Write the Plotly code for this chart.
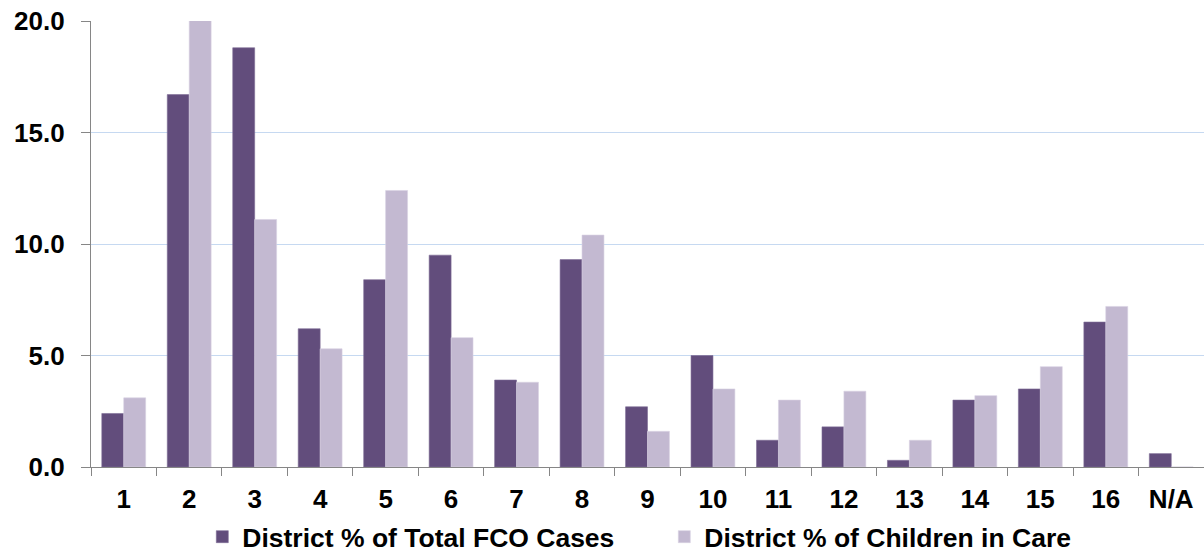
import plotly.graph_objects as go

categories = ["1", "2", "3", "4", "5", "6", "7", "8", "9", "10", "11", "12", "13", "14", "15", "16", "N/A"]
fco_cases = [2.4, 16.7, 18.8, 6.2, 8.4, 9.5, 3.9, 9.3, 2.7, 5.0, 1.2, 1.8, 0.3, 3.0, 3.5, 6.5, 0.6]
children_in_care = [3.1, 20.1, 11.1, 5.3, 12.4, 5.8, 3.8, 10.4, 1.6, 3.5, 3.0, 3.4, 1.2, 3.2, 4.5, 7.2, 0.0]
y_ticks = [0, 5, 10, 15, 20]

FONT = "Liberation Sans"
FS = 26

fig = go.Figure()
fig.add_trace(go.Bar(
    x=categories, y=fco_cases, name="District % of Total FCO Cases",
    marker=dict(color="#624D7C", line=dict(color="#7D6B96", width=0.6)),
))
fig.add_trace(go.Bar(
    x=categories, y=children_in_care, name="District % of Children in Care",
    marker=dict(color="#C3B9D1", line=dict(color="#D9D2E3", width=0.6)),
))

fig.update_layout(
    width=1204, height=554,
    margin=dict(l=91, r=0, t=21, b=87, autoexpand=False),
    paper_bgcolor="white", plot_bgcolor="white",
    barmode="group", bargap=0.33, bargroupgap=0,
    font=dict(family=FONT, size=FS, color="black"),
    showlegend=True,
    legend=dict(orientation="h", x=0.1, xanchor="left", y=-0.103, yanchor="top",
                font=dict(family=FONT, size=26.5, color="black", weight="bold"),
                itemwidth=30, traceorder="normal",
                entrywidth=417, entrywidthmode="pixels"),
)
fig.update_xaxes(
    type="category", showline=True, linecolor="#868686", linewidth=1.3,
    ticks="outside", tickson="boundaries", ticklen=8, tickcolor="#868686",
    tickfont=dict(family=FONT, size=FS, color="black", weight="bold"),
    ticklabelstandoff=9, showgrid=False, automargin=False,
    ticklabeloverflow="allow",
)
fig.update_yaxes(
    range=[0, 20], tickvals=y_ticks, tickformat=".1f",
    showline=True, linecolor="#868686", linewidth=1.3,
    ticks="outside", ticklen=9, tickcolor="#868686",
    showgrid=True, gridcolor="#C6D9F1", gridwidth=1.3,
    tickfont=dict(family=FONT, size=FS, color="black", weight="bold"),
    ticklabelstandoff=11, zeroline=False, automargin=False,
    ticklabeloverflow="allow",
)

# remove the page's default 8px body margin so the figure fills the window
fig.write_html("out.html", config={"displayModeBar": False},
               post_script="document.body.style.margin='0';")
